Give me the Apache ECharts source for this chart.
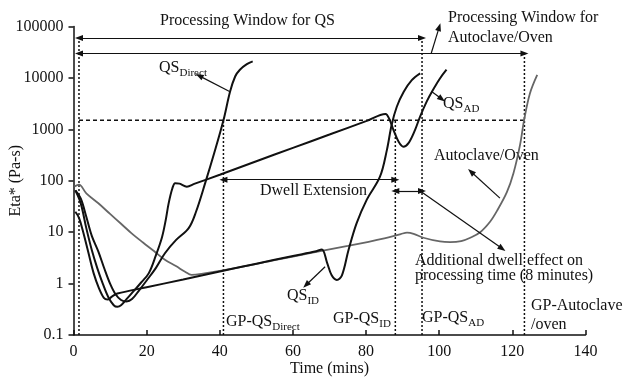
<!DOCTYPE html>
<html>
<head>
<meta charset="utf-8">
<script src="https://cdn.jsdelivr.net/npm/echarts@6/dist/echarts.min.js"></script>
<style>
  html, body { margin: 0; padding: 0; background: #fff; }
  #chart { width: 625px; height: 377px; }
</style>
</head>
<body>
<div id="chart"></div>
<script>
// Complex viscosity (Eta*) versus time for the cure cycles, log scale.
const xTicks = [0, 20, 40, 60, 80, 100, 120, 140];
const yTickLabels = ['0.1', '1', '10', '100', '1000', '10000', '100000'];

// [time (min), Eta* (Pa-s)]
const qsDirect = [
  [0.5, 65], [2, 45], [3.5, 20], [5, 8.5], [6.8, 4.2], [8.5, 1.9], [10, 1.0],
  [11.5, 0.62], [13, 0.48], [14.5, 0.45], [16, 0.5], [18, 0.75], [20, 1.15],
  [22.5, 2], [25, 3.9], [28, 7], [31.5, 12], [33.5, 25], [36, 90], [38.5, 350],
  [41, 1500], [42.8, 5400], [44.2, 10700], [45.5, 14500], [47.4, 18600], [49, 21000]
];
const qsAD = [
  [0.5, 65], [2, 36], [3.5, 12], [5, 4.5], [6.5, 2], [8, 1], [9.5, 0.55], [11, 0.38],
  [12, 0.355], [13, 0.38], [14.5, 0.5], [16.5, 0.72], [18.5, 1.05], [20.6, 1.6],
  [22.5, 3.5], [24.2, 8], [25.2, 17], [26, 36], [27, 70], [27.8, 90], [29, 88],
  [31, 77], [33, 87], [40, 131], [50, 240], [60, 437], [70, 795], [80, 1450],
  [85.3, 2000], [86.5, 1500], [87.5, 970], [88.9, 575], [90.2, 460], [91.6, 540],
  [93.4, 980], [94.8, 1800], [96.6, 3500], [98, 5400], [100.2, 9800], [102, 14500]
];
const qsID = [
  [0.5, 25], [1.5, 19], [2.5, 11], [4, 4.2], [5.5, 1.6], [7, 0.8], [8.3, 0.53],
  [9.3, 0.49], [10.5, 0.56], [12, 0.64], [20, 0.85], [30, 1.2], [40, 1.72],
  [50, 2.44], [60, 3.45], [66, 4.2], [67.9, 4.6], [69.3, 2.6], [70.6, 1.45],
  [72, 1.18], [73.4, 1.45], [75.2, 4.5], [77.4, 14.8], [80.2, 43], [83.8, 120],
  [85.7, 400], [87, 1230], [88.4, 2760], [90.3, 5400], [92.5, 9100], [94.8, 12300]
];
const autoclave = [
  [0.3, 78], [1.5, 84], [3.5, 57], [6.8, 36.5], [10, 22.7], [13, 14.6], [15.9, 9.5],
  [19, 6.3], [22, 4.3], [25, 2.9], [28, 2.2], [30.5, 1.7], [32.3, 1.48], [35, 1.55],
  [45, 2.05], [55, 2.85], [65, 3.95], [75, 5.4], [85, 7.6], [89.5, 9.2], [91.2, 9.8],
  [93, 9.3], [95.7, 7.8], [100.2, 6.6], [103, 6.4], [106, 6.7], [108.5, 7.8],
  [111.2, 10], [113.9, 16], [115.8, 26], [118.5, 60], [120.3, 140], [122.1, 500],
  [123.2, 1500], [124.8, 5000], [126.8, 11500]
];

// Gel-point guide lines (dotted verticals) and the 1500 Pa-s level (dashed)
const guideLines = [
  { pts: [[1.5, 0.1], [1.5, 60000]], dash: [2, 2] },
  { pts: [[41, 0.1], [41, 1500]], dash: [2, 2] },
  { pts: [[88, 0.1], [88, 1500]], dash: [2, 2] },
  { pts: [[95.3, 0.1], [95.3, 60000]], dash: [2, 2] },
  { pts: [[123.3, 0.1], [123.3, 30000]], dash: [2, 2] },
  { pts: [[1.5, 1500], [123.3, 1500]], dash: [4, 3] }
];

// Annotation arrows: from -> to, "both" puts a head on each end
const arrows = [
  { from: [1.5, 60000], to: [95.3, 60000], both: true },
  { from: [1.5, 30000], to: [123.3, 30000], both: true },
  { from: [97.8, 30000], to: [100, 98000] },
  { from: [42.8, 5400], to: [34.4, 11000] },
  { from: [41, 105], to: [88, 105], both: true },
  { from: [88, 63], to: [95.3, 63], both: true },
  { from: [94.8, 63], to: [117.2, 4.8] },
  { from: [98, 5400], to: [100.7, 3900] },
  { from: [116.6, 46], to: [108.7, 150] },
  { from: [68.8, 2.13], to: [63.6, 0.94] }
];

const FONT = '"Liberation Serif", "Times New Roman", serif';
const INK = '#111';

const measureCtx = document.createElement('canvas').getContext('2d');
function textWidth(s, size) {
  measureCtx.font = size + 'px ' + FONT;
  return measureCtx.measureText(s).width;
}
function plainText(x, cy, text) {
  return {
    type: 'text', x: x, y: cy, silent: true,
    style: { text: text, font: '16px ' + FONT, fill: INK, verticalAlign: 'middle' }
  };
}
function subText(x, cy, main, sub) {
  const w = textWidth(main, 16);
  return [
    plainText(x, cy, main),
    {
      type: 'text', x: x + w, y: cy + 5, silent: true,
      style: { text: sub, font: '11px ' + FONT, fill: INK, verticalAlign: 'middle' }
    }
  ];
}

const labels = [
  plainText(160, 21, 'Processing Window for QS'),
  plainText(448, 18, 'Processing Window for'),
  plainText(448, 38, 'Autoclave/Oven'),
  ...subText(159, 68, 'QS', 'Direct'),
  ...subText(443, 104, 'QS', 'AD'),
  plainText(434, 156, 'Autoclave/Oven'),
  plainText(260, 191, 'Dwell Extension'),
  ...subText(287, 296, 'QS', 'ID'),
  plainText(415, 261, 'Additional dwell effect on'),
  plainText(415, 276, 'processing time (8 minutes)'),
  ...subText(226, 322, 'GP-QS', 'Direct'),
  ...subText(333, 319, 'GP-QS', 'ID'),
  ...subText(422, 318, 'GP-QS', 'AD'),
  plainText(531, 306, 'GP-Autoclave'),
  plainText(531, 325, '/oven')
];

function curve(name, data, color, width) {
  return {
    name: name, type: 'line', data: data, showSymbol: false, symbol: 'none',
    smooth: 0.35, z: 3,
    lineStyle: { color: color, width: width }
  };
}

const guideSeries = guideLines.map((g, i) => ({
  name: 'guide' + i, type: 'line', data: g.pts, showSymbol: false, symbol: 'none',
  z: 2, lineStyle: { color: INK, width: 1.5, type: g.dash }
}));

const arrowSeries = {
  name: 'arrows', type: 'line', data: [], z: 4,
  markLine: {
    silent: true, animation: false,
    label: { show: false },
    lineStyle: { color: INK, width: 1.2, type: 'solid' },
    emphasis: { disabled: true },
    data: arrows.map(a => [
      { coord: a.from, symbol: a.both ? 'triangle' : 'none', symbolSize: [6, 8] },
      { coord: a.to, symbol: 'triangle', symbolSize: [6, 8] }
    ])
  }
};

const chart = echarts.init(document.getElementById('chart'), null, { renderer: 'canvas' });
chart.setOption({
  animation: false,
  backgroundColor: '#fff',
  textStyle: { fontFamily: FONT, color: INK },
  grid: { left: 73.5, right: 39.5, top: 26.6, bottom: 42, containLabel: false, outerBoundsMode: 'none' },
  xAxis: {
    type: 'value', min: xTicks[0], max: xTicks[xTicks.length - 1], interval: 20,
    name: 'Time (mins)', nameLocation: 'middle', nameGap: 26, nameMoveOverlap: false,
    nameTextStyle: { fontFamily: FONT, fontSize: 16, color: INK },
    axisLine: { show: true, lineStyle: { color: INK, width: 1.5 } },
    axisTick: { show: true, inside: true, length: 5, lineStyle: { color: INK, width: 1.5 } },
    axisLabel: { fontFamily: FONT, fontSize: 16, color: INK, margin: 9, formatter: v => String(v) },
    splitLine: { show: false }
  },
  yAxis: {
    type: 'log', logBase: 10, min: 0.1, max: 100000,
    name: 'Eta* (Pa-s)', nameLocation: 'middle', nameGap: 50, nameRotate: 90, nameMoveOverlap: false,
    nameTextStyle: { fontFamily: FONT, fontSize: 16, color: INK },
    axisLine: { show: true, lineStyle: { color: INK, width: 1.5 } },
    axisTick: { show: true, inside: false, length: 5, lineStyle: { color: INK, width: 1.5 } },
    minorTick: { show: false },
    axisLabel: {
      fontFamily: FONT, fontSize: 16, color: INK, margin: 10,
      formatter: v => yTickLabels[Math.round(Math.log10(v)) + 1]
    },
    splitLine: { show: false }
  },
  series: [
    ...guideSeries,
    curve('Autoclave/Oven', autoclave, '#666', 1.8),
    curve('QS Direct', qsDirect, INK, 2),
    curve('QS AD', qsAD, INK, 2),
    curve('QS ID', qsID, INK, 2),
    arrowSeries
  ],
  graphic: labels
});
</script>
</body>
</html>
